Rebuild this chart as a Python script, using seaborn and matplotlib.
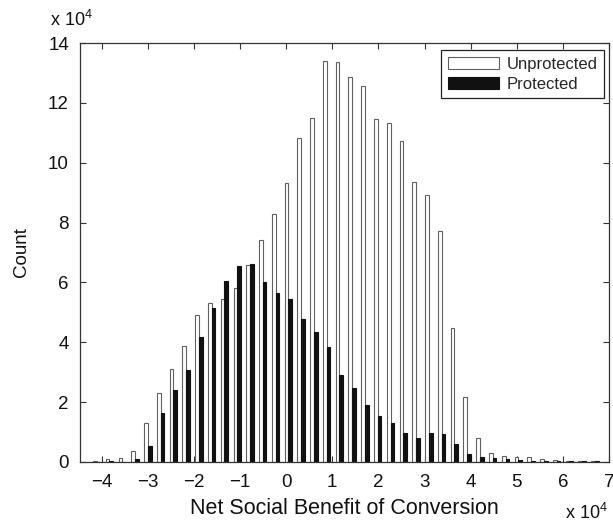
import matplotlib
matplotlib.use('Agg')
import matplotlib.pyplot as plt
import pandas as pd
import seaborn as sns

# Bin centres (units of 1e4)
bin_centers = [-4.108, -3.831, -3.554, -3.277, -3.000, -2.723, -2.446, -2.169,
               -1.892, -1.615, -1.338, -1.061, -0.784, -0.507, -0.230, 0.047,
               0.324, 0.601, 0.878, 1.155, 1.432, 1.709, 1.986, 2.263,
               2.540, 2.817, 3.094, 3.371, 3.648, 3.925, 4.202, 4.479,
               4.756, 5.033, 5.310, 5.587, 5.864, 6.141, 6.418, 6.695]

# Counts (units of 1e4)
unprotected = [0.02, 0.09, 0.12, 0.38, 1.31, 2.32, 3.12, 3.88,
               4.91, 5.30, 5.43, 5.80, 6.58, 7.42, 8.29, 9.33,
               10.81, 11.51, 13.39, 13.35, 12.85, 12.56, 11.45, 11.34,
               10.72, 9.36, 8.93, 7.72, 4.49, 2.18, 0.81, 0.31,
               0.20, 0.18, 0.18, 0.09, 0.07, 0.05, 0.05, 0.04]
protected = [0.01, 0.03, 0.01, 0.09, 0.53, 1.65, 2.41, 3.07,
             4.19, 5.13, 6.06, 6.56, 6.60, 6.02, 5.66, 5.43,
             4.77, 4.35, 3.83, 2.91, 2.46, 1.90, 1.55, 1.29,
             0.98, 0.79, 0.98, 0.92, 0.60, 0.26, 0.17, 0.12,
             0.09, 0.07, 0.04, 0.02, 0.02, 0.02, 0.02, 0.02]

series_names = ['Unprotected', 'Protected']
xticks = list(range(-4, 8))
yticks = list(range(0, 15, 2))

sns.set_theme(style='white')
plt.rcParams['font.family'] = ['Liberation Sans', 'DejaVu Sans']
plt.rcParams['mathtext.default'] = 'regular'

df = pd.DataFrame({
    'center': bin_centers + bin_centers,
    'count': unprotected + protected,
    'series': [series_names[0]] * len(bin_centers) + [series_names[1]] * len(bin_centers),
})

W, H = 613, 525
fig = plt.figure(figsize=(W / 100, H / 100), dpi=100)
ax = fig.add_axes([80 / W, 1 - 462 / H, (609 - 80) / W, (462 - 43) / H])

sns.barplot(data=df, x='center', y='count', hue='series', hue_order=series_names,
            palette={'Unprotected': 'white', 'Protected': '#111111'},
            native_scale=True, width=0.58, dodge=True, errorbar=None,
            linewidth=0.8, edgecolor='#606060', ax=ax)

for p in ax.patches:
    fc = p.get_facecolor()
    if fc[0] < 0.5:
        p.set_edgecolor('#111111')

ax.set_xlim(-4.47, 7)
ax.set_ylim(0, 14)
ax.set_xticks(xticks)
ax.set_xticklabels([str(t).replace('-', '\u2212') for t in xticks])
ax.set_yticks(yticks)
ax.set_yticklabels([str(t) for t in yticks])
ax.tick_params(direction='in', length=4, width=0.8, color='#333333',
               top=True, right=True, bottom=True, left=True, labelsize=13.5,
               labelcolor='#111111')
ax.tick_params(axis='x', pad=8.5)
ax.tick_params(axis='y', pad=8)
for s in ax.spines.values():
    s.set_color('#333333')
    s.set_linewidth(0.9)

ax.set_xlabel('Net Social Benefit of Conversion', fontsize=15.5, color='#111111', labelpad=5)
ax.set_ylabel('Count', fontsize=13.5, color='#111111', labelpad=13)

handles, labels = ax.get_legend_handles_labels()
leg = ax.legend(handles, labels, loc='upper right',
                bbox_to_anchor=(604 / W, 1 - 50 / H), bbox_transform=fig.transFigure,
                borderaxespad=0, fontsize=12, frameon=True, fancybox=False,
                framealpha=1, edgecolor='#222222', handlelength=3.05,
                handleheight=0.7, handletextpad=0.45, labelspacing=0.3,
                borderpad=0.4, title=None)
leg.get_frame().set_linewidth(0.9)
for h in leg.legend_handles:
    if h.get_facecolor()[0] < 0.5:
        h.set_edgecolor('#111111')
    else:
        h.set_edgecolor('#606060')

fig.text(50 / W, 1 - 26 / H, r'x 10$^4$', fontsize=13, color='#111111', ha='left', va='baseline')
fig.text(565 / W, 1 - 519 / H, r'x 10$^4$', fontsize=13, color='#111111', ha='left', va='baseline')

fig.savefig('out.png', dpi=100, facecolor='white')
